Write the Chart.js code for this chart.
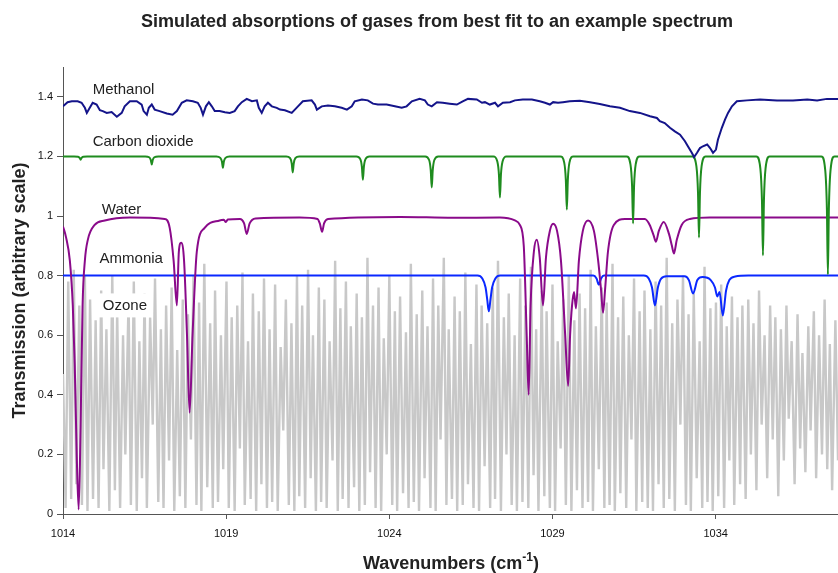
<!DOCTYPE html>
<html>
<head>
<meta charset="utf-8">
<script src="https://cdn.jsdelivr.net/npm/chart.js@4.4.1/dist/chart.umd.min.js"></script>
<style>
  html, body { margin: 0; padding: 0; background: #fff; }
  #wrap { width: 838px; height: 573px; }
</style>
</head>
<body>
<div id="wrap"><canvas id="spectrumChart" width="838" height="573"></canvas></div>
<script>
// axis ticks
const xTicks = [1014, 1019, 1024, 1029, 1034];
const yTicks = [0, 0.2, 0.4, 0.6, 0.8, 1, 1.2, 1.4];
const yTickLabels = ['0', '0.2', '0.4', '0.6', '0.8', '1', '1.2', '1.4'];

const gasNames = ['Methanol', 'Carbon dioxide', 'Water', 'Ammonia', 'Ozone'];

// Methanol
const methanolWn = [
  1014.00, 1014.14, 1014.27, 1014.45, 1014.57, 1014.67, 1014.73, 1014.82, 1014.91, 1015.03,
  1015.13, 1015.22, 1015.34, 1015.49, 1015.65, 1015.80, 1015.89, 1016.05, 1016.26, 1016.41,
  1016.47, 1016.57, 1016.63, 1016.72, 1016.81, 1016.96, 1017.18, 1017.36, 1017.49, 1017.64,
  1017.79, 1017.98, 1018.13, 1018.22, 1018.29, 1018.38, 1018.47, 1018.56, 1018.65, 1018.80,
  1018.96, 1019.11, 1019.26, 1019.36, 1019.48, 1019.63, 1019.79, 1019.94, 1020.00, 1020.09,
  1020.18, 1020.28, 1020.40, 1020.55, 1020.65, 1020.80, 1021.01, 1021.20, 1021.35, 1021.62,
  1021.72, 1021.78, 1021.93, 1022.12, 1022.33, 1022.54, 1022.70, 1022.85, 1022.94, 1023.16,
  1023.34, 1023.50, 1023.65, 1023.92, 1024.17, 1024.38, 1024.53, 1024.69, 1024.93, 1025.09,
  1025.18, 1025.30, 1025.46, 1025.64, 1025.85, 1026.07, 1026.25, 1026.41, 1026.68, 1026.84,
  1026.93, 1027.08, 1027.24, 1027.33, 1027.48, 1027.70, 1027.85, 1028.09, 1028.37, 1028.61,
  1028.77, 1028.92, 1029.02, 1029.17, 1029.32, 1029.53, 1029.84, 1030.15, 1030.45, 1030.76,
  1031.07, 1031.37, 1031.68, 1031.99, 1032.20, 1032.29, 1032.44, 1032.60, 1032.75, 1032.91,
  1033.06, 1033.15, 1033.27, 1033.34, 1033.43, 1033.52, 1033.61, 1033.74, 1033.83, 1033.92,
  1034.01, 1034.07, 1034.19, 1034.29, 1034.38, 1034.50, 1034.65, 1034.96, 1035.36, 1035.88,
  1036.37, 1036.81, 1037.11, 1037.41, 1037.75
];
const methanolT = [
  1.368, 1.382, 1.385, 1.385, 1.380, 1.363, 1.346, 1.363, 1.380, 1.374,
  1.355, 1.352, 1.346, 1.349, 1.333, 1.346, 1.368, 1.385, 1.385, 1.374,
  1.352, 1.340, 1.363, 1.374, 1.357, 1.352, 1.344, 1.340, 1.352, 1.380,
  1.388, 1.385, 1.380, 1.363, 1.340, 1.368, 1.382, 1.368, 1.352, 1.352,
  1.348, 1.346, 1.352, 1.368, 1.382, 1.393, 1.385, 1.388, 1.363, 1.346,
  1.368, 1.380, 1.368, 1.363, 1.357, 1.355, 1.346, 1.368, 1.385, 1.388,
  1.374, 1.357, 1.368, 1.371, 1.368, 1.363, 1.357, 1.368, 1.385, 1.391,
  1.388, 1.377, 1.374, 1.374, 1.368, 1.363, 1.368, 1.385, 1.393, 1.388,
  1.374, 1.368, 1.382, 1.380, 1.377, 1.374, 1.385, 1.393, 1.391, 1.380,
  1.382, 1.374, 1.380, 1.368, 1.380, 1.382, 1.388, 1.391, 1.391, 1.385,
  1.380, 1.374, 1.382, 1.380, 1.382, 1.385, 1.387, 1.382, 1.376, 1.368,
  1.363, 1.352, 1.346, 1.335, 1.329, 1.318, 1.312, 1.296, 1.284, 1.273,
  1.251, 1.234, 1.212, 1.198, 1.212, 1.228, 1.234, 1.240, 1.228, 1.212,
  1.223, 1.256, 1.296, 1.324, 1.346, 1.368, 1.385, 1.388, 1.391, 1.388,
  1.388, 1.391, 1.388, 1.393, 1.393
];

// Carbon dioxide
const co2Wn = [
  1014.00,
  1014.34, 1014.46, 1014.51, 1014.54, 1014.57, 1014.62, 1014.74,
  1016.52, 1016.64, 1016.69, 1016.72, 1016.75, 1016.80, 1016.92,
  1018.70, 1018.82, 1018.87, 1018.90, 1018.93, 1018.98, 1019.10,
  1020.84, 1020.96, 1021.01, 1021.04, 1021.07, 1021.12, 1021.24,
  1022.99, 1023.11, 1023.16, 1023.19, 1023.22, 1023.27, 1023.39,
  1025.10, 1025.22, 1025.27, 1025.30, 1025.33, 1025.38, 1025.50,
  1027.19, 1027.31, 1027.36, 1027.39, 1027.42, 1027.47, 1027.59,
  1029.24, 1029.36, 1029.41, 1029.44, 1029.47, 1029.52, 1029.64,
  1031.27, 1031.39, 1031.44, 1031.47, 1031.50, 1031.55, 1031.67,
  1033.29, 1033.41, 1033.46, 1033.49, 1033.52, 1033.57, 1033.69,
  1035.25, 1035.37, 1035.42, 1035.45, 1035.48, 1035.53, 1035.65,
  1037.24, 1037.36, 1037.41, 1037.44, 1037.47, 1037.52, 1037.64,
  1037.75
];
const co2T = [
  1.2,
  1.2, 1.199, 1.195, 1.189, 1.195, 1.199, 1.2,
  1.2, 1.197, 1.188, 1.173, 1.188, 1.197, 1.2,
  1.2, 1.195, 1.183, 1.162, 1.183, 1.195, 1.2,
  1.2, 1.194, 1.176, 1.146, 1.176, 1.194, 1.2,
  1.2, 1.191, 1.165, 1.122, 1.165, 1.191, 1.2,
  1.2, 1.188, 1.153, 1.096, 1.153, 1.188, 1.2,
  1.2, 1.183, 1.138, 1.062, 1.138, 1.183, 1.2,
  1.2, 1.179, 1.120, 1.022, 1.120, 1.179, 1.2,
  1.2, 1.173, 1.099, 0.975, 1.099, 1.173, 1.2,
  1.2, 1.167, 1.078, 0.928, 1.078, 1.167, 1.2,
  1.2, 1.160, 1.051, 0.868, 1.051, 1.160, 1.2,
  1.2, 1.152, 1.022, 0.804, 1.022, 1.152, 1.2,
  1.2
];

// Water
const waterWn = [
  1014.00, 1014.09, 1014.21, 1014.30, 1014.36, 1014.42, 1014.48, 1014.54, 1014.60, 1014.67,
  1014.76, 1014.97, 1015.28, 1016.05, 1017.12, 1017.27, 1017.39, 1017.49, 1017.55, 1017.62,
  1017.71, 1017.80, 1017.88, 1017.97, 1018.10, 1018.34, 1018.80, 1018.93, 1018.99, 1019.05,
  1019.42, 1019.55, 1019.63, 1019.72, 1019.90, 1021.25, 1021.80, 1021.87, 1021.94, 1022.00,
  1022.12, 1024.33, 1025.95, 1027.39, 1027.85, 1028.00, 1028.12, 1028.21, 1028.27, 1028.33,
  1028.43, 1028.52, 1028.61, 1028.71, 1028.80, 1028.92, 1029.02, 1029.14, 1029.26, 1029.39,
  1029.48, 1029.54, 1029.60, 1029.66, 1029.72, 1029.81, 1029.93, 1030.09, 1030.27, 1030.40,
  1030.49, 1030.55, 1030.61, 1030.70, 1030.88, 1031.22, 1031.83, 1031.98, 1032.10, 1032.17,
  1032.26, 1032.41, 1032.57, 1032.66, 1032.72, 1032.81, 1032.96, 1033.21, 1033.82, 1037.75
];
const waterT = [
  0.965, 0.930, 0.850, 0.700, 0.500, 0.200, 0.015, 0.300, 0.700, 0.850,
  0.920, 0.970, 0.985, 0.995, 0.990, 0.960, 0.850, 0.700, 0.880, 0.910,
  0.850, 0.600, 0.340, 0.600, 0.880, 0.960, 0.985, 0.987, 0.980, 0.988,
  0.990, 0.975, 0.940, 0.975, 0.992, 0.995, 0.990, 0.975, 0.947, 0.975,
  0.990, 0.997, 0.994, 0.995, 0.985, 0.970, 0.900, 0.600, 0.400, 0.700,
  0.880, 0.920, 0.860, 0.700, 0.860, 0.950, 0.974, 0.950, 0.850, 0.600,
  0.430, 0.600, 0.700, 0.745, 0.690, 0.850, 0.950, 0.985, 0.950, 0.850,
  0.750, 0.675, 0.750, 0.880, 0.970, 0.990, 0.990, 0.970, 0.935, 0.914,
  0.950, 0.980, 0.940, 0.900, 0.874, 0.920, 0.970, 0.990, 0.995, 0.995
];

// Ammonia
const ammoniaWn = [
  1014.00, 1026.70, 1026.85, 1026.95, 1027.00, 1027.05, 1027.10, 1027.15, 1027.25, 1027.40,
  1030.25, 1030.35, 1030.42, 1030.49, 1030.58, 1031.80, 1031.95, 1032.05, 1032.14, 1032.23,
  1032.33, 1032.50, 1033.05, 1033.18, 1033.31, 1033.44, 1033.60, 1033.85, 1033.98, 1034.05,
  1034.12, 1034.22, 1034.32, 1034.42, 1034.60, 1035.00, 1037.75
];
const ammoniaT = [
  0.800, 0.800, 0.790, 0.760, 0.720, 0.680, 0.720, 0.760, 0.790, 0.800,
  0.800, 0.790, 0.770, 0.790, 0.800, 0.800, 0.790, 0.760, 0.700, 0.760,
  0.790, 0.798, 0.798, 0.785, 0.740, 0.785, 0.795, 0.785, 0.760, 0.730,
  0.745, 0.666, 0.750, 0.785, 0.797, 0.800, 0.800
];

// Ozone: alternating maxima / minima, one row per wavenumber
const ozoneWn = [
  1014.00, 1014.08, 1014.16, 1014.25, 1014.33, 1014.41, 1014.50, 1014.58, 1014.67, 1014.75, 1014.83, 1014.92,
  1015.00, 1015.09, 1015.17, 1015.24, 1015.33, 1015.42, 1015.51, 1015.59, 1015.66, 1015.75, 1015.84, 1015.91,
  1016.01, 1016.08, 1016.17, 1016.26, 1016.34, 1016.42, 1016.50, 1016.57, 1016.67, 1016.75, 1016.82, 1016.92,
  1017.00, 1017.08, 1017.16, 1017.25, 1017.33, 1017.41, 1017.50, 1017.58, 1017.67, 1017.75, 1017.83, 1017.92,
  1018.00, 1018.09, 1018.17, 1018.24, 1018.33, 1018.42, 1018.51, 1018.59, 1018.66, 1018.75, 1018.84, 1018.91,
  1019.01, 1019.08, 1019.17, 1019.26, 1019.34, 1019.42, 1019.50, 1019.57, 1019.67, 1019.75, 1019.82, 1019.92,
  1020.00, 1020.08, 1020.16, 1020.25, 1020.33, 1020.41, 1020.50, 1020.58, 1020.67, 1020.75, 1020.83, 1020.92,
  1021.00, 1021.09, 1021.17, 1021.24, 1021.33, 1021.42, 1021.51, 1021.59, 1021.66, 1021.75, 1021.84, 1021.91,
  1022.01, 1022.08, 1022.17, 1022.26, 1022.34, 1022.42, 1022.50, 1022.57, 1022.67, 1022.75, 1022.82, 1022.92,
  1023.00, 1023.08, 1023.16, 1023.25, 1023.33, 1023.41, 1023.50, 1023.58, 1023.67, 1023.75, 1023.83, 1023.92,
  1024.00, 1024.09, 1024.17, 1024.24, 1024.33, 1024.42, 1024.51, 1024.59, 1024.66, 1024.75, 1024.84, 1024.91,
  1025.01, 1025.08, 1025.17, 1025.26, 1025.34, 1025.42, 1025.50, 1025.57, 1025.67, 1025.75, 1025.82, 1025.92,
  1026.00, 1026.08, 1026.16, 1026.25, 1026.33, 1026.41, 1026.50, 1026.58, 1026.67, 1026.75, 1026.83, 1026.92,
  1027.00, 1027.09, 1027.17, 1027.24, 1027.33, 1027.42, 1027.51, 1027.59, 1027.66, 1027.75, 1027.84, 1027.91,
  1028.01, 1028.08, 1028.17, 1028.26, 1028.34, 1028.42, 1028.50, 1028.57, 1028.67, 1028.75, 1028.82, 1028.92,
  1029.00, 1029.08, 1029.16, 1029.25, 1029.33, 1029.41, 1029.50, 1029.58, 1029.67, 1029.75, 1029.83, 1029.92,
  1030.00, 1030.09, 1030.17, 1030.24, 1030.33, 1030.42, 1030.51, 1030.59, 1030.66, 1030.75, 1030.84, 1030.91,
  1031.01, 1031.08, 1031.17, 1031.26, 1031.34, 1031.42, 1031.50, 1031.57, 1031.67, 1031.75, 1031.82, 1031.92,
  1032.00, 1032.08, 1032.16, 1032.25, 1032.33, 1032.41, 1032.50, 1032.58, 1032.67, 1032.75, 1032.83, 1032.92,
  1033.00, 1033.09, 1033.17, 1033.24, 1033.33, 1033.42, 1033.51, 1033.59, 1033.66, 1033.75, 1033.84, 1033.91,
  1034.01, 1034.08, 1034.17, 1034.26, 1034.34, 1034.42, 1034.50, 1034.57, 1034.67, 1034.75, 1034.82, 1034.92,
  1035.00, 1035.08, 1035.16, 1035.25, 1035.33, 1035.41, 1035.50, 1035.58, 1035.67, 1035.75, 1035.83, 1035.92,
  1036.00, 1036.09, 1036.17, 1036.24, 1036.33, 1036.42, 1036.51, 1036.59, 1036.66, 1036.75, 1036.84, 1036.91,
  1037.01, 1037.08, 1037.17, 1037.26, 1037.34, 1037.42, 1037.50, 1037.57, 1037.67, 1037.75
];
const ozoneT = [
  0.47, 0.02, 0.78, 0.05, 0.82, 0.10, 0.70, 0.03, 0.80, 0.01, 0.72, 0.05,
  0.65, 0.02, 0.75, 0.15, 0.62, 0.01, 0.80, 0.08, 0.68, 0.02, 0.60, 0.20,
  0.72, 0.03, 0.78, 0.01, 0.58, 0.12, 0.74, 0.02, 0.66, 0.30, 0.79, 0.04,
  0.62, 0.02, 0.70, 0.18, 0.76, 0.01, 0.55, 0.06, 0.72, 0.02, 0.67, 0.25,
  0.80, 0.03, 0.71, 0.01, 0.84, 0.09, 0.64, 0.02, 0.75, 0.04, 0.60, 0.15,
  0.78, 0.02, 0.66, 0.01, 0.70, 0.22, 0.81, 0.03, 0.58, 0.05, 0.74, 0.01,
  0.68, 0.10, 0.79, 0.02, 0.62, 0.04, 0.77, 0.01, 0.56, 0.28, 0.72, 0.03,
  0.64, 0.01, 0.80, 0.06, 0.70, 0.02, 0.82, 0.12, 0.60, 0.01, 0.76, 0.04,
  0.72, 0.02, 0.58, 0.18, 0.85, 0.01, 0.69, 0.05, 0.78, 0.02, 0.63, 0.09,
  0.74, 0.01, 0.66, 0.03, 0.86, 0.14, 0.70, 0.02, 0.76, 0.01, 0.59, 0.20,
  0.80, 0.03, 0.68, 0.01, 0.73, 0.07, 0.61, 0.02, 0.84, 0.04, 0.67, 0.01,
  0.75, 0.12, 0.63, 0.02, 0.79, 0.01, 0.70, 0.25, 0.86, 0.03, 0.62, 0.05,
  0.73, 0.01, 0.68, 0.03, 0.81, 0.10, 0.57, 0.02, 0.77, 0.01, 0.70, 0.16,
  0.64, 0.02, 0.76, 0.05, 0.85, 0.01, 0.66, 0.20, 0.74, 0.03, 0.60, 0.01,
  0.79, 0.04, 0.70, 0.02, 0.83, 0.13, 0.62, 0.01, 0.75, 0.06, 0.68, 0.02,
  0.77, 0.01, 0.58, 0.22, 0.72, 0.03, 0.80, 0.01, 0.65, 0.08, 0.74, 0.02,
  0.69, 0.04, 0.82, 0.01, 0.63, 0.15, 0.76, 0.02, 0.71, 0.03, 0.84, 0.01,
  0.66, 0.07, 0.73, 0.02, 0.60, 0.25, 0.79, 0.01, 0.68, 0.04, 0.75, 0.02,
  0.62, 0.01, 0.78, 0.10, 0.70, 0.02, 0.86, 0.05, 0.64, 0.01, 0.72, 0.30,
  0.80, 0.03, 0.67, 0.01, 0.74, 0.12, 0.58, 0.02, 0.83, 0.04, 0.69, 0.01,
  0.71, 0.06, 0.77, 0.02, 0.63, 0.18, 0.73, 0.03, 0.66, 0.10, 0.70, 0.05,
  0.72, 0.20, 0.64, 0.08, 0.75, 0.30, 0.60, 0.12, 0.70, 0.25, 0.66, 0.06,
  0.62, 0.18, 0.70, 0.32, 0.58, 0.10, 0.67, 0.22, 0.54, 0.14, 0.63, 0.28,
  0.68, 0.12, 0.60, 0.20, 0.72, 0.15, 0.57, 0.08, 0.65, 0.18
];

// where the gas names sit, in data units
const labelWn = [1014.91, 1014.91, 1015.19, 1015.12, 1015.22];
const labelT = [1.424, 1.250, 1.022, 0.857, 0.700];
const labelBox = [false, false, false, true, true];

const pts = (xs, ys) => xs.map((x, i) => ({ x: x, y: ys[i] }));

const FONT = '"Liberation Sans", Arial, sans-serif';

const textPlugin = {
  id: 'texts',
  afterDatasetsDraw(chart) {
    const ctx = chart.ctx;
    const x = chart.scales.x, y = chart.scales.y;
    ctx.save();
    ctx.font = '15px ' + FONT;
    ctx.textBaseline = 'middle';
    ctx.textAlign = 'left';
    gasNames.forEach((name, i) => {
      const px = x.getPixelForValue(labelWn[i]);
      const py = y.getPixelForValue(labelT[i]);
      if (labelBox[i]) {
        const w = ctx.measureText(name).width;
        ctx.fillStyle = '#fff';
        ctx.fillRect(px - 5, py - 12, w + 10, 24);
      }
      ctx.fillStyle = '#222';
      ctx.fillText(name, px, py);
    });
    ctx.restore();
  },
  afterDraw(chart) {
    const ctx = chart.ctx;
    ctx.save();
    ctx.fillStyle = '#222';
    ctx.textBaseline = 'alphabetic';
    ctx.textAlign = 'center';
    ctx.font = 'bold 18px ' + FONT;
    ctx.fillText('Simulated absorptions of gases from best fit to an example spectrum', 437, 27);

    // x axis title with a superscript
    const a = 'Wavenumbers (cm', sup = '-1', b = ')';
    ctx.textAlign = 'left';
    ctx.font = 'bold 18px ' + FONT;
    const wa = ctx.measureText(a).width, wb = ctx.measureText(b).width;
    ctx.font = 'bold 12px ' + FONT;
    const ws = ctx.measureText(sup).width;
    let cx = 451 - (wa + ws + wb) / 2;
    const base = 569;
    ctx.font = 'bold 18px ' + FONT;
    ctx.fillText(a, cx, base);
    cx += wa;
    ctx.font = 'bold 12px ' + FONT;
    ctx.fillText(sup, cx, base - 8);
    cx += ws;
    ctx.font = 'bold 18px ' + FONT;
    ctx.fillText(b, cx, base);
    ctx.restore();
  }
};

new Chart(document.getElementById('spectrumChart'), {
  type: 'line',
  data: {
    datasets: [
      { label: gasNames[0], data: pts(methanolWn, methanolT), borderColor: '#14148a', borderWidth: 2, tension: 0 },
      { label: gasNames[1], data: pts(co2Wn, co2T), borderColor: '#1f8c1f', borderWidth: 2, cubicInterpolationMode: 'monotone' },
      { label: gasNames[2], data: pts(waterWn, waterT), borderColor: '#8a0a8a', borderWidth: 2, cubicInterpolationMode: 'monotone' },
      { label: gasNames[3], data: pts(ammoniaWn, ammoniaT), borderColor: '#0a28ff', borderWidth: 2, cubicInterpolationMode: 'monotone' },
      { label: gasNames[4], data: pts(ozoneWn, ozoneT), borderColor: '#c8c8c8', borderWidth: 2.4, tension: 0 }
    ]
  },
  options: {
    responsive: false,
    animation: false,
    devicePixelRatio: 1,
    events: [],
    elements: { point: { radius: 0 } },
    layout: { padding: { top: 67, right: 0, bottom: 0, left: 0 } },
    plugins: {
      legend: { display: false },
      title: { display: false },
      tooltip: { enabled: false }
    },
    scales: {
      x: {
        type: 'linear',
        min: 1014,
        max: 1037.75,
        afterBuildTicks: axis => { axis.ticks = xTicks.map(v => ({ value: v })); },
        afterFit: axis => { axis.height = 59; },
        ticks: {
          color: '#111',
          font: { family: FONT, size: 11 },
          padding: 8,
          maxRotation: 0,
          callback: (v, i) => String(xTicks[i])
        },
        grid: { display: true, drawOnChartArea: false, drawTicks: true, tickLength: 5, color: '#555' },
        border: { display: true, color: '#555', width: 1 }
      },
      y: {
        min: 0,
        max: 1.5,
        afterBuildTicks: axis => { axis.ticks = yTicks.map(v => ({ value: v })); },
        afterFit: axis => { axis.width = 63; },
        ticks: {
          color: '#111',
          font: { family: FONT, size: 11 },
          padding: 4,
          callback: (v, i) => yTickLabels[i]
        },
        grid: { display: true, drawOnChartArea: false, drawTicks: true, tickLength: 6, color: '#555' },
        border: { display: true, color: '#555', width: 1 },
        title: {
          display: true,
          text: 'Transmission (arbitrary scale)',
          color: '#222',
          font: { family: FONT, size: 18, weight: 'bold' },
          padding: { top: 9, bottom: 0 }
        }
      }
    }
  },
  plugins: [textPlugin]
});
</script>
</body>
</html>
